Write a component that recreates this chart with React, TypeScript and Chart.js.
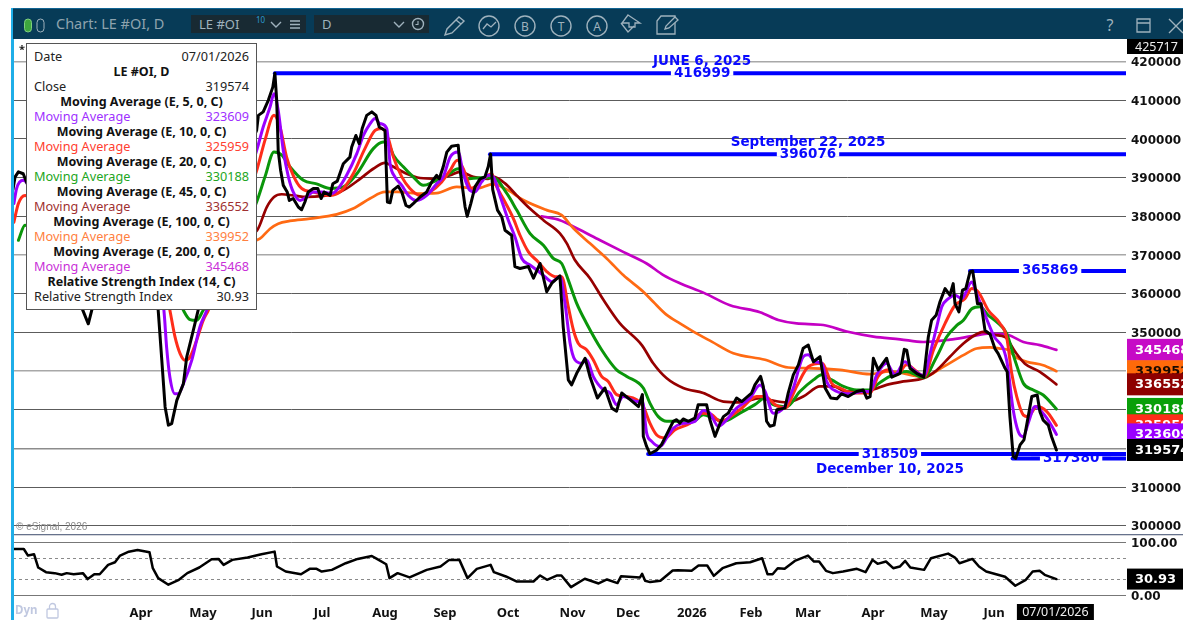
import React, { useEffect, useRef } from "react";
import { Chart, registerables } from "chart.js";

Chart.register(...registerables);

type Pt = [number, number];

// Session number (trading days from the left edge), value in thousands of contracts.
const closeSeries: Pt[] = [[0,387],[0.7,390.2],[1.8,391.5],[3.4,391],[8,382],[14,374],[20,362],[25.1,352.2],[27,358],[32,370],[38,382],[42,390],[45,380],[47.5,362],[48.4,355.7],[49.6,342.8],[50.7,330.7],[51.8,326],[52.9,326.4],[54.6,332.4],[56.8,336.7],[57.9,343.6],[60.1,350.5],[61.7,355.7],[64,362],[68,370],[72,380],[76,392],[80,400],[81.2,402.2],[81.8,406.1],[83.4,407],[85.1,410],[86.6,413.4],[87.3,417],[87.9,410],[88.4,397],[89.2,391.9],[90.1,388],[91.4,386.3],[92.1,384.1],[93.4,384.6],[95.1,382.4],[96.2,381.7],[97.3,383.7],[98.4,386.3],[100.1,387.2],[101.6,387.2],[102.7,384.6],[103.7,386.3],[105.7,385.4],[106.6,388.4],[108.1,389.1],[110.1,393.6],[112.3,395.3],[112.9,397.9],[114.3,400.9],[115.4,398.8],[116.4,402.7],[117.9,406.1],[119.6,407],[121,406.1],[122.1,403.1],[124,402.2],[124.8,383.7],[125.7,383.5],[126.6,386.7],[128.4,387.8],[129.6,386.3],[131,382.8],[132.1,382.4],[133.4,383.3],[135.7,385],[137.9,386.3],[139.6,388.9],[141.2,390.6],[142.1,389.7],[143.4,392.8],[144.6,396.6],[146.2,398.1],[148.4,398.4],[149.2,391],[150.7,382.4],[151.4,380],[152.6,383.3],[154,387.6],[155.7,389.7],[157.3,390.2],[158.4,392.8],[159.2,396.08],[159.9,386.9],[161.5,381.6],[162.9,379.9],[164,376.4],[166.2,375.1],[167.3,367],[169,366.5],[171.8,367],[173.5,364],[175.7,367.8],[177.9,360.5],[179.6,362.7],[182.3,364.6],[183.4,351.5],[185.1,337.7],[186.2,336.4],[187.9,339.4],[190.7,343.3],[192.3,338.6],[194.8,333],[197.3,335.6],[199.6,330.4],[201.2,329.6],[202.9,334.3],[205.7,332.6],[208.5,330.8],[209.8,333.9],[210.1,323.1],[211.2,320.5],[212.3,318.6],[214.5,319.5],[216.2,321],[217.9,323.6],[220.1,327],[221.2,327.4],[222.3,326.5],[223.4,327.6],[225.1,327],[227.3,327.8],[228.4,331.3],[231.2,331.3],[232.3,327.4],[234,323.1],[235.7,326.5],[236.8,328.2],[238.4,329.1],[241.2,333],[242.9,332.1],[246.2,334.3],[247.3,336.4],[249.2,338.6],[250.1,336],[251.2,327],[252.3,325.7],[253.7,326],[254.6,330],[257.3,330.4],[258.4,334.3],[260.1,339],[261.8,341.6],[263.4,345.9],[265.1,346.7],[266.8,342.4],[269,343.7],[269.9,339.4],[270.7,335.6],[272.6,333],[274.6,332.8],[276.2,334.1],[278.4,333.4],[281.2,334.7],[283.4,335.1],[284.6,333],[285.7,333.4],[286.8,343.3],[288.4,340.3],[291.2,343.3],[292.9,338.4],[295.7,339.4],[297.1,345.6],[297.9,345.4],[299,340.7],[301.2,339.4],[303.6,338.4],[305.1,348.8],[306.2,353.1],[307.7,354.4],[309,357.9],[310.7,361.3],[312.3,359.6],[313.4,362.6],[314,357.4],[315.3,355.3],[316.5,360.9],[317.6,361.3],[319,365.6],[319.9,365.87],[320.7,361.7],[321.5,357.4],[322.7,357.4],[324,350.5],[325.7,349.5],[327.3,345.8],[328.4,344.5],[330.7,340.7],[331.4,339.8],[332.3,328.2],[333.4,317.9],[334.2,317.38],[335.7,320.9],[337,322.2],[338.4,328.2],[339.6,333.4],[341.4,333.8],[342.3,329.5],[343.4,327.3],[345.1,326],[346.2,323],[347.8,319.57]];
const ma5Series: Pt[] = [[0.3,383.3],[1.2,387.2],[3.4,389.3],[8,384],[14,376],[20,367],[26,360],[32,365],[38,376],[43,384],[46,378],[48,365],[50.3,355.7],[51.2,346.2],[52.3,338.4],[54,334.1],[55.1,334.1],[56.8,336.7],[59.6,342.8],[62.3,351.4],[64.6,355.7],[68,364],[72,372],[76,384],[81.4,397.5],[83.4,403.1],[85.7,408.3],[87,411.7],[88.4,407.4],[90.1,397],[91.8,390.2],[93.4,386.3],[95.7,384.1],[97.9,385],[100.1,386.3],[102.9,386.3],[106.2,385.9],[108.4,387.2],[111.2,390.6],[114.6,396.2],[116.8,400.9],[119,403.9],[120.7,405.3],[122.3,404],[124.6,402.7],[125.7,393.6],[127.3,390.2],[129.6,388],[131.8,385.4],[134.6,384.1],[137.9,385.4],[141.2,388.4],[143.4,390.2],[145.7,395.3],[148.4,396.6],[150.1,391],[152.3,386.7],[154,386.3],[156.2,388.9],[158.4,390.6],[160.1,390.2],[162.3,385.4],[165.1,379],[167.3,374.7],[169.6,369.1],[172.3,367.4],[174.6,366.1],[177.3,364.4],[179.6,363.1],[182.3,364.4],[184,357.5],[185.7,347.2],[187.3,342.9],[189.6,342],[191.2,342.9],[193.4,338.6],[196.8,335.1],[199,334.3],[201.2,331.3],[203.4,333.4],[207.9,332.1],[209.8,332.1],[211.2,324],[212.9,321.8],[215.7,320.5],[217.9,322.7],[220.1,325.2],[222.9,326.4],[227.3,327],[230.1,329.8],[232.3,329.1],[235.1,325.7],[237.9,327.4],[241.2,330.4],[245.7,333],[249,336.4],[250.7,334.7],[253.4,329.1],[256.8,330.4],[260.1,335.6],[263.4,343.7],[265.1,344.2],[267.3,342.4],[269.6,342],[271.2,337.3],[274.6,334.7],[279,334.1],[283.4,334.7],[285.7,334.7],[287.9,339],[291.2,342],[294,339],[297.3,342.4],[300.1,340.3],[303.7,338.8],[305.7,344.5],[307.9,351.4],[309.6,356.6],[311.8,358.7],[314,359.6],[316.2,358.7],[319.6,363],[321.2,360],[323.4,355.7],[326.8,349.3],[331.2,342.8],[333.4,329.9],[335.1,324.3],[336.8,323],[338.4,326.5],[340.7,330.8],[343.4,329],[345.7,326.5],[347.8,323.61]];
const ma10Series: Pt[] = [[0.3,378.5],[1.8,383.3],[4,385.4],[10,379],[16,372],[22,365],[28,364],[34,369],[40,378],[45,380],[48,372],[52.3,355.7],[54,348.8],[55.7,344.5],[57.3,342.8],[59,343.6],[61.2,347.9],[63.4,353.1],[65.1,355.7],[70,365],[75,378],[81.4,392.3],[84,399.7],[87,406.1],[89,403.1],[91.2,395.3],[93.4,390.6],[96.2,387.2],[100.1,386.3],[105.7,385.4],[109.6,386.7],[113.4,391],[117.3,397.5],[120.7,402.2],[122.9,402.7],[125.1,400.1],[126.8,395.3],[129.6,390.2],[132.3,387.2],[135.7,385.4],[139,386.3],[142.9,388.9],[145.7,391.9],[148.1,394.5],[150.1,392.3],[152.9,387.2],[156.2,389.3],[159.6,391],[160.7,388.5],[164,383.7],[166.8,379.4],[169,375.1],[171.8,370.8],[175.1,368.2],[177.9,365.7],[180.7,364.4],[182.9,364.4],[185.1,356.6],[186.8,350.6],[188.4,347.2],[191.2,345.5],[193.4,342.9],[196.2,338.6],[198.4,337.3],[201.2,333.9],[204.6,333.4],[207.9,332.6],[210.1,330.8],[212.3,326.5],[214.5,323.5],[217.3,322.7],[220.7,324.8],[225.7,326.5],[229.6,329.1],[232.9,328.7],[235.7,327],[242.3,330],[247.9,333.4],[250.7,333.4],[254,331.3],[257.3,330.4],[261.2,336],[265.1,341.1],[269.6,342],[272.9,336.8],[275.7,335.6],[280.1,334.3],[285.7,334.3],[288.4,338.6],[291.8,340.3],[294.6,339],[297.9,341.6],[301.2,339.9],[303.7,338.5],[306.8,345.4],[310.7,352.3],[314,357],[317.3,358.7],[319.6,361.3],[321.8,360.4],[325.1,355.7],[329,352.3],[331.2,348.8],[332.9,339.4],[334.6,333.3],[336.8,328.6],[338.4,328.2],[341.2,330.8],[344.6,329.5],[347.8,325.96]];
const ma20Series: Pt[] = [[1.8,373.8],[4,377.7],[10,374],[16,370],[24,366],[32,367],[40,372],[46,374],[50,368],[56.8,355.7],[59,353.3],[61.2,353.1],[63.4,355.7],[70,364],[76,374],[81.4,384.1],[84,390.2],[87,396.6],[89.6,395.8],[92.3,392.8],[96.8,389.3],[101.2,388.4],[105.7,387.2],[110.1,387.6],[114.6,391],[120.1,397.5],[123.4,399.2],[125.1,398.8],[126.8,395.8],[130.1,392.8],[133.4,390.2],[136.8,388],[140.1,388.9],[144.6,390.6],[148.4,392.3],[151.2,389.7],[155.7,390],[160.1,390],[164.6,385.9],[167.9,381.6],[172.3,375.6],[176.8,372.5],[180.1,369.1],[182.9,367.8],[185.1,363.5],[187.9,357.5],[191.2,352.3],[196.2,345.5],[201.2,340.3],[204.6,338.6],[210.1,335.6],[212.3,331.7],[215.1,328.2],[217.9,327],[223.4,327],[226.8,327],[230.1,328.7],[233.4,327.8],[236.8,327],[242.3,329.1],[247.3,331.3],[250.7,333],[253.4,331.3],[257.9,330.8],[262.3,334.7],[266.8,337.7],[269.6,339],[272.9,337.7],[276.8,336],[281.2,335.1],[285.7,335.1],[287.9,336.4],[292.3,338.6],[297.9,339.9],[303.5,338.3],[307.9,343.7],[311.2,348.8],[314.6,351.8],[316.8,353.1],[319.6,356.1],[322.3,356.6],[325.1,354.4],[327.9,352.7],[331.2,349.7],[334,342.8],[336.8,336.8],[340.1,335.1],[343.4,333.8],[347.8,330.19]];
const ma45Series: Pt[] = [[30,372],[50,370],[70,372.5],[81.4,376.4],[84.6,382.4],[87,385],[89.6,385.7],[93.4,385.4],[97.9,385],[102.9,385.2],[107.9,385.9],[111.2,387.2],[115.7,389.7],[120.1,392.3],[124,393.8],[126.8,392.8],[131.2,391],[135.7,389.9],[141.2,389.7],[145.7,390.6],[149,391.5],[153.4,390.2],[158.4,389.7],[160.1,390.2],[164,388.5],[167.9,385.4],[172.3,382],[176.8,379],[182.3,375.6],[184.6,373],[187.3,368.7],[192.3,364],[196.8,358.4],[202.3,352.3],[209.6,346.7],[213.4,342],[217.9,338.1],[223.4,335.6],[230.1,334.3],[236.8,332.1],[242.3,331.9],[249,333],[252.3,332.5],[257.9,331.9],[263.4,333.4],[269,336],[273.4,336],[277.9,334.7],[285.7,335],[291.2,336.4],[296.8,337.3],[303.5,338.1],[307.9,340.2],[312.3,343.7],[316.8,347.1],[320.7,349.3],[323.4,350.1],[327.3,349.3],[330.7,348.8],[334,345],[337.3,341.9],[342.3,339.8],[347.8,336.55]];
const ma100Series: Pt[] = [[40,372],[60,372],[80,373.5],[82.3,374.2],[85.7,376.8],[88.4,378.1],[92.3,378.8],[99,379.4],[107.9,380.5],[113.4,382],[119,384.6],[124,386.3],[128.4,386.3],[134.6,385.9],[141.2,386],[147.9,387.6],[154.6,387.2],[160.1,388.3],[165.1,386.7],[170.1,384.2],[177.9,381.6],[182.9,380.3],[186.8,376.9],[192.3,373],[197.9,369.1],[203.4,364.8],[210.1,360.5],[213.4,357.9],[217.9,354.5],[222.3,352.3],[226.8,350.2],[232.9,347.6],[240.1,344.6],[250.7,342.9],[258.4,340.9],[266.8,340.7],[275.7,340.3],[285.7,339.2],[292.3,339.9],[303.7,338.5],[310.1,341.1],[316.8,344.1],[321.2,345.8],[325.7,346.1],[329,345.8],[331.8,345.4],[334,343.7],[337.9,342.4],[343.4,341.5],[347.8,339.95]];
const ma200Series: Pt[] = [[176.2,380],[182.3,379],[187.9,376.9],[195.7,373.8],[203.4,370.8],[211.2,367.8],[216.8,364.8],[222.3,362.7],[230.3,360.2],[239,357],[249,355.2],[255.1,353.2],[261.2,352.3],[270.1,351.9],[277.9,350.2],[286.8,348.9],[295.7,348.2],[303.4,347.5],[312.3,348.1],[319.6,349],[325.7,349.7],[331.8,349.3],[336.8,347.5],[342.3,346.7],[347.8,345.47]];
const rsiSeries: Pt[] = [[0.1,87],[3.6,87],[5,74.7],[7,77.2],[8.4,52.5],[11,43.8],[13.9,42],[16.2,38.9],[17.9,42],[20.2,40],[23.3,42],[24.9,30.9],[27.1,40],[28.9,40],[31.7,57.4],[34,62.3],[35.7,74.7],[38.6,82],[41.5,85.2],[45.5,80.9],[46.6,51.2],[48.4,32.7],[51.8,20.4],[55.3,29.6],[58.1,42],[62.1,52.5],[66.2,67.9],[68.5,68.5],[70.2,57.4],[73.1,66.7],[78.2,71],[82.8,77.2],[87.2,82.1],[88,54.3],[90.9,45],[96,40],[98.9,50],[101.2,50],[102.9,45],[106.3,48.1],[110.9,60.5],[114.9,68.5],[119.6,74],[121.3,68.5],[124.4,58.6],[125.5,32.7],[128.2,42],[132.2,34],[137.9,48.1],[142.5,54.3],[145.4,66.7],[148.8,66.7],[151.5,32.7],[154.6,50],[159.2,57.4],[160.3,43.8],[164.3,35.8],[167.8,26.5],[173.5,26.5],[175.7,37.7],[178,29.6],[181.4,37.7],[182.8,37.7],[186,16],[190.6,31.5],[195.2,22.8],[198,30.2],[201.5,23.5],[202.7,36.4],[209,34],[209.7,40.7],[210.7,27.8],[212.4,25.3],[215.8,27.8],[219.9,46.9],[221.6,47.5],[226.2,46.3],[228.5,56.2],[231.4,56.2],[233.6,37],[236.5,51.2],[241.1,60.5],[245.7,62.3],[249.7,69.8],[251.5,40.1],[253.2,40],[254.9,51.2],[257.2,50],[260.6,64.8],[265,74.7],[267,63.6],[268.7,63.6],[271,46.3],[273.3,42],[276.7,45],[281.3,50],[284.2,43.8],[286.5,66.7],[288.2,59.3],[291,63.6],[293.4,51.2],[295.6,54.3],[297.4,64.8],[299.1,52.5],[303.7,48.1],[306,69.8],[311.7,78.4],[314,71],[315.5,60.5],[319.8,68.5],[322,54.3],[324.4,45],[330.7,35.2],[334.1,18.5],[337.6,29.6],[339.9,45],[342.2,46.3],[343.9,38.9],[347.8,30.93]];

const monthLabels = ["Apr","May","Jun","Jul","Aug","Sep","Oct","Nov","Dec","2026","Feb","Mar","Apr","May","Jun"];
const monthSessions = [42.7,63.3,83,103,124,144,165,186.5,205,226.3,246,265,286.7,307,327];
const priceTicks = [300,310,320,330,340,350,360,370,380,390,400,410,420];
const rsiTicks = [0,30,70,100];

const levelValues = [416.999,396.076,365.869,317.38,318.509];
const levelStarts = [87.3,159,319,333.2,211.7];
const levelTexts = ["416999","396076","365869","317380","318509"];
const levelTextSessions = [229.7,265,345.7,352.7,292.3];
const dateTexts = ["JUNE 6, 2025","September 22, 2025","December 10, 2025"];
const dateLevels = [0,1,4];
const dateSides = [-1,-1,1];

const lastTexts = ["345468","339952","336552","330188","325959","323609","319574"];
const lastValues = [345.468,339.952,336.552,330.188,325.959,323.609,319.574];
const lastColours = ["#c60ac6","#ff6a0a","#8e0000","#0a9f0a","#ff2d1a","#9a00ff","#000000"];
const lastTextColours = ["#fff","#1a0a00","#fff","#fff","#fff","#fff","#fff"];

const infoRows: [string, string, string][] = [
  ["Date","07/01/2026","#222"],
  ["LE #OI, D","","b"],
  ["Close","319574","#222"],
  ["Moving Average (E, 5, 0, C)","","b"],
  ["Moving Average","323609","#a030ff"],
  ["Moving Average (E, 10, 0, C)","","b"],
  ["Moving Average","325959","#ff4030"],
  ["Moving Average (E, 20, 0, C)","","b"],
  ["Moving Average","330188","#22a622"],
  ["Moving Average (E, 45, 0, C)","","b"],
  ["Moving Average","336552","#a03030"],
  ["Moving Average (E, 100, 0, C)","","b"],
  ["Moving Average","339952","#ff8040"],
  ["Moving Average (E, 200, 0, C)","","b"],
  ["Moving Average","345468","#c930d8"],
  ["Relative Strength Index (14, C)","","b"],
  ["Relative Strength Index","30.93","#222"],
];

const BOLD = '"DejaVu Sans"';

const overlay = {
  id: "overlay",
  beforeDraw(chart: any) {
    const c = chart.ctx;
    c.save();
    c.fillStyle = "#ffffff";
    c.fillRect(0, 0, chart.width, chart.height);
    c.restore();
  },
  afterDatasetsDraw(chart: any) {
    const c = chart.ctx;
    const x = chart.scales.x, y = chart.scales.y, r = chart.scales.rsi;
    c.save();
    c.textBaseline = "middle";
    c.textAlign = "center";
    c.font = `bold 13.5px ${BOLD}`;
    levelTexts.forEach((t, i) => {
      const px = x.getPixelForValue(levelTextSessions[i]);
      const py = y.getPixelForValue(levelValues[i]);
      const w = c.measureText(t).width;
      c.fillStyle = "#fff";
      c.fillRect(px - w / 2 - 3, py - 2.5, w + 6, 5);
      c.fillStyle = "#0a0aff";
      c.fillText(t, px, py);
    });
    // the lower low line runs over the top of its own label at the 318509 level
    const lowPy = y.getPixelForValue(levelValues[4]);
    const labPx = x.getPixelForValue(levelTextSessions[3]);
    c.fillStyle = "#0000ff";
    c.fillRect(labPx - 40, lowPy - 2, 80, 4);
    dateTexts.forEach((t, i) => {
      const lv = dateLevels[i];
      const px = x.getPixelForValue(levelTextSessions[lv]);
      const py = y.getPixelForValue(levelValues[lv]);
      c.fillStyle = "#0a0aff";
      c.fillText(t, px, py + (dateSides[i] < 0 ? -12 : 15));
    });

    const right = chart.chartArea.right + 1;
    // pane separator
    c.fillStyle = "#66728c";
    c.fillRect(13, 534, chart.width - 13, 1);
    c.fillStyle = "#d4d6dc";
    c.fillRect(13, 535, chart.width - 13, 1);

    // top of the scale
    c.textAlign = "left";
    c.fillStyle = "#000";
    c.fillRect(right, 39, chart.width - right, 15);
    c.fillStyle = "#eee";
    c.font = '12.5px "Noto Sans"';
    c.fillText("425717", right + 8, 47);

    // last-value badges
    c.font = `bold 13px ${BOLD}`;
    lastTexts.forEach((t, i) => {
      const py = y.getPixelForValue(lastValues[i]);
      c.fillStyle = lastColours[i];
      c.fillRect(right, py - 11, chart.width - right, 22);
      c.fillStyle = lastTextColours[i];
      c.fillText(t, right + 8, py + 0.5);
    });
    const rp = r.getPixelForValue(30.93);
    c.fillStyle = "#000";
    c.fillRect(right, rp - 10.5, chart.width - right, 21);
    c.fillStyle = "#fff";
    c.fillText("30.93", right + 8, rp + 0.5);

    // date badge
    const dx = x.getPixelForValue(closeSeries[closeSeries.length - 1][0]);
    c.fillStyle = "#000";
    c.fillRect(dx - 39.5, 604, 77, 16);
    c.fillStyle = "#eee";
    c.textAlign = "center";
    c.font = '12.5px "Noto Sans"';
    c.fillText("07/01/2026", dx - 1, 612);

    // copyright
    c.textAlign = "left";
    c.fillStyle = "#8a8a8a";
    c.font = '10px "Liberation Sans"';
    c.fillText("© eSignal, 2026", 16, 527);
    c.fillStyle = "#c0c8e0";
    c.font = 'bold 11.5px "Noto Sans"';
    c.fillText("Dyn", 15, 611);
    c.fillStyle = "#222";
    c.font = 'bold 11px "Noto Sans"';
    c.fillText("*", 19, 50);
    c.restore();
  },
};

function line(points: Pt[], colour: string, order: number, axis = "y", smooth = true, width = 3) {
  return {
    data: points.map(([a, b]) => ({ x: a, y: b })),
    borderColor: colour,
    borderWidth: width,
    pointRadius: 0,
    order,
    yAxisID: axis,
    borderJoinStyle: "round",
    borderCapStyle: "round",
    cubicInterpolationMode: smooth ? "monotone" : "default",
    tension: 0,
  };
}

function Header() {
  const stroke = "#9fb2bd";
  const circle = (cx: number, t: string) => (
    <g key={cx}>
      <circle cx={cx} cy={26} r={10} fill="none" stroke={stroke} strokeWidth={1.4} />
      <text x={cx} y={30.5} textAnchor="middle" fontSize={12} fill={stroke} fontFamily="Noto Sans">{t}</text>
    </g>
  );
  return (
    <svg width={1170} height={32} viewBox="13 8 1170 32" style={{ position: "absolute", left: 13, top: 8, display: "block" }}>
      <rect x={13} y={8} width={1170} height={31} fill="#073b57" />
      <rect x={13} y={7.5} width={1170} height={1} fill="#1b8fd0" />
      <rect x={24.5} y={19} width={7} height={13} rx={3.5} fill="#3ea63e" stroke="#7fd07f" strokeWidth={1} />
      <rect x={37} y={19} width={7} height={13} rx={3.5} fill="none" stroke="#9fb2bd" strokeWidth={1} />
      <text x={56} y={29} fontSize={14.5} fill="#8ea3ae" fontFamily="Noto Sans">Chart: LE #OI, D</text>
      <rect x={191} y={15} width={115} height={18} fill="#182a33" />
      <text x={199} y={29} fontSize={13} fill="#9fb2bd" fontFamily="Noto Sans">LE #OI</text>
      <text x={256} y={23} fontSize={8} fill="#2b9bd1" fontFamily="Noto Sans">10</text>
      <path d="M271 22 L276 27 L281 22" fill="none" stroke={stroke} strokeWidth={1.4} />
      <path d="M290 21 H300 M290 24.5 H300 M290 28 H300" stroke={stroke} strokeWidth={1.3} />
      <rect x={314} y={15} width={115} height={18} fill="#182a33" />
      <text x={322} y={29} fontSize={13} fill="#9fb2bd" fontFamily="Noto Sans">D</text>
      <path d="M394 22 L399 27 L404 22" fill="none" stroke={stroke} strokeWidth={1.4} />
      <circle cx={418} cy={24} r={5.5} fill="none" stroke={stroke} strokeWidth={1.4} />
      <path d="M418 21 V24.5 H415.5" fill="none" stroke={stroke} strokeWidth={1.1} />
      <path d="M445 35 L447 29 L459 17 L464 21 L452 33 Z M456 20 L461 24" fill="none" stroke={stroke} strokeWidth={1.4} />
      <circle cx={489} cy={26} r={10} fill="none" stroke={stroke} strokeWidth={1.4} />
      <path d="M483 29 L487 24 L491 27 L496 22" fill="none" stroke={stroke} strokeWidth={1.3} />
      {circle(525, "B")}
      {circle(561, "T")}
      {circle(597, "A")}
      <path d="M628 16 L640 24 H635 V28 H629 V24 H622 Z M621 24 L628 33 L634 27" fill="none" stroke={stroke} strokeWidth={1.3} transform="translate(0 -1)" />
      <path d="M657 21 L661 16 H675 V34 H657 Z" fill="none" stroke={stroke} strokeWidth={1.3} />
      <path d="M665 29 L666 26 L675 17 L678 20 L669 28 Z" fill="#073b57" stroke={stroke} strokeWidth={1.3} />
      <text x={1110} y={31} textAnchor="middle" fontSize={16} fill={stroke} fontFamily="Noto Sans">?</text>
      <path d="M1137 19 H1150 V32 H1137 Z M1137 23 H1150" fill="none" stroke={stroke} strokeWidth={1.3} />
      <path d="M1169 19 L1183 33 M1183 19 L1169 33" stroke={stroke} strokeWidth={1.4} />
    </svg>
  );
}

function InfoPanel() {
  return (
    <div style={{ position: "absolute", left: 26, top: 43, width: 229, height: 265, background: "#fff", border: "1.5px solid #555", boxSizing: "content-box" }}>
      {infoRows.map(([a, b, col], i) => (
        <div key={i} style={{ position: "absolute", left: 7, width: 215, top: 5 + i * 15, height: 15, lineHeight: "15px", fontSize: col === "b" ? 12.5 : 12.7, fontFamily: '"Noto Sans"', whiteSpace: "nowrap", display: "flex", justifyContent: col === "b" ? "center" : "space-between", fontWeight: col === "b" ? 700 : 400, color: col === "b" ? "#111" : col }}>
          <span>{a}</span>
          {b ? <span>{b}</span> : null}
        </div>
      ))}
    </div>
  );
}

export default function App() {
  const ref = useRef<HTMLCanvasElement | null>(null);

  useEffect(() => {
    const chart = new Chart(ref.current as HTMLCanvasElement, {
      type: "line",
      data: {
        datasets: [
          line(closeSeries, "#000000", 0, "y", false),
          line(ma5Series, "#9a00ff", 1),
          line(ma10Series, "#ff2d1a", 2),
          line(ma20Series, "#0a960a", 3),
          line(ma45Series, "#960000", 4, "y", true, 2.7),
          line(ma100Series, "#ff6a13", 5, "y", true, 2.7),
          line(ma200Series, "#c400c4", 6, "y", true, 2.7),
          line(rsiSeries, "#000000", 0, "rsi", false, 2.5),
          ...levelValues.map((v, i) =>
            line([[levelStarts[i], v], [371, v]], "#0000ff", 7 + (levelValues.length - i), "y", false, 4),
          ),
        ] as any,
      },
      options: {
        animation: false,
        responsive: false,
        parsing: false as any,
        normalized: true,
        layout: { padding: { top: 39.5, left: 13, right: 0, bottom: 0 } },
        plugins: { legend: { display: false }, tooltip: { enabled: false } },
        events: [],
        scales: {
          x: {
            type: "linear",
            min: 0,
            max: 371,
            grid: { display: false, drawTicks: false },
            border: { display: false },
            afterFit: (s: any) => { s.height = 19; },
            afterBuildTicks: (s: any) => { s.ticks = monthSessions.map((v) => ({ value: v })); },
            ticks: {
              autoSkip: false,
              maxRotation: 0,
              padding: 4,
              color: "#111",
              font: { family: '"Noto Sans"', size: 13, weight: "bold" },
              callback: (_v: any, i: number) => monthLabels[i],
            },
          },
          y: {
            type: "linear",
            position: "right",
            stack: "panes",
            stackWeight: 495.2,
            min: 297.67,
            max: 425.717,
            afterFit: (s: any) => { s.width = 57; },
            afterBuildTicks: (s: any) => { s.ticks = priceTicks.map((v) => ({ value: v })); },
            border: { display: false },
            grid: {
              drawTicks: false,
              color: (c: any) => ([420, 370, 340].includes(c.tick?.value) ? "#a8a8a8" : c.tick?.value === 320 ? "#8c8c8c" : "#5c5c5c"),
              lineWidth: (c: any) => ([420, 370, 340, 320].includes(c.tick?.value) ? 1.5 : 1),
            },
            ticks: {
              padding: 5,
              labelOffset: 1.5,
              color: "#111",
              autoSkip: false,
              font: { family: BOLD, size: 12, weight: "bold" },
              callback: (v: any) => String(v * 1000),
            },
          },
          rsi: {
            type: "linear",
            position: "right",
            stack: "panes",
            stackWeight: 66.3,
            min: -9.9,
            max: 113.6,
            afterFit: (s: any) => { s.width = 57; },
            afterBuildTicks: (s: any) => { s.ticks = rsiTicks.map((v) => ({ value: v })); },
            border: { display: false, dash: (c: any) => ([30, 70].includes(c.tick?.value) ? [3, 3] : []) },
            grid: {
              drawTicks: false,
              color: (c: any) => ([30, 70].includes(c.tick?.value) ? "#8a8a8a" : "#777"),
              lineWidth: 1,
            },
            ticks: {
              padding: 5,
              labelOffset: 1.5,
              color: "#111",
              autoSkip: false,
              font: { family: BOLD, size: 12, weight: "bold" },
              callback: (v: any) => (v === 0 || v === 100 ? Number(v).toFixed(2) : ""),
            },
          },
        },
      } as any,
      plugins: [overlay],
    });
    return () => chart.destroy();
  }, []);

  return (
    <div style={{ position: "fixed", left: 0, top: 0, width: 1183, height: 620, overflow: "hidden", background: "#fff" }}>
      <canvas ref={ref} width={1183} height={620} style={{ display: "block", position: "absolute", left: 0, top: 0 }} />
      <div style={{ position: "absolute", left: 11, top: 8, width: 3, height: 612, background: "#1faee8" }} />
      <Header />
      <InfoPanel />
      <svg width={16} height={17} style={{ position: "absolute", left: 45, top: 602 }}>
        <rect x={2} y={7} width={11} height={9} rx={1} fill="none" stroke="#c0c8e0" strokeWidth={1.3} />
        <path d="M4.5 7 V4.5 a3 3 0 0 1 6 0 V7" fill="none" stroke="#c0c8e0" strokeWidth={1.3} />
      </svg>
    </div>
  );
}
